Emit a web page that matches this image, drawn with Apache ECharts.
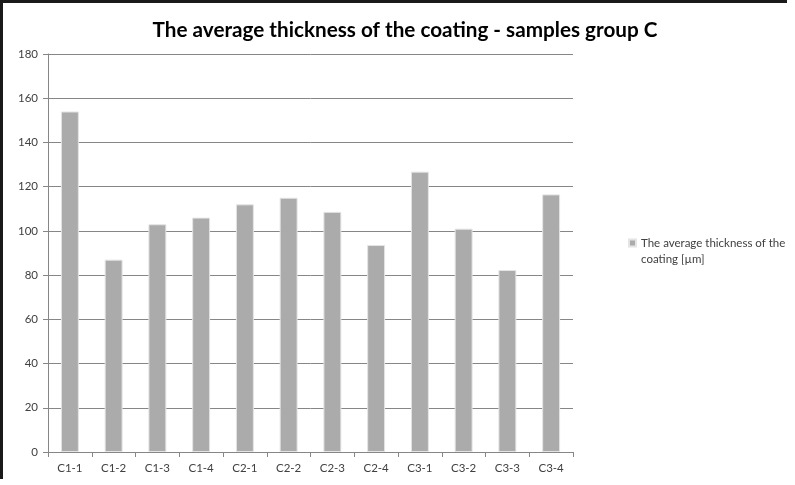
<!DOCTYPE html>
<html>
<head>
<meta charset="utf-8">
<script src="https://cdn.jsdelivr.net/npm/echarts@6/dist/echarts.min.js"></script>
<style>
  html, body { margin: 0; padding: 0; background: #ffffff; }
  #chart { width: 795px; height: 485px; }
</style>
</head>
<body>
<div id="chart"></div>
<script>
// Sample labels along the category axis
const samples = ['C1-1', 'C1-2', 'C1-3', 'C1-4', 'C2-1', 'C2-2', 'C2-3', 'C2-4', 'C3-1', 'C3-2', 'C3-3', 'C3-4'];
// Average coating thickness per sample, in micrometres
const thickness = [154, 87, 103, 106, 112, 115, 108.6, 93.6, 126.8, 101, 82.3, 116.5];
// Value axis range and step
const yMin = 0;
const yMax = 180;
const yStep = 20;

const seriesName = 'The average thickness of the coating [µm]';

const chart = echarts.init(document.getElementById('chart'), null, { renderer: 'canvas' });
const font = 'Lato, "Open Sans", sans-serif';

chart.setOption({
  backgroundColor: '#ffffff',
  animation: false,
  title: {
    text: 'The average thickness of the coating - samples group C',
    left: 400,
    textAlign: 'center',
    top: 15,
    textStyle: { fontFamily: font, fontSize: 20.7, fontWeight: 'bold', color: '#000000' }
  },
  legend: {
    left: 623,
    top: 214,
    orient: 'vertical',
    icon: 'rect',
    itemWidth: 7,
    itemHeight: 7,
    data: [seriesName],
    // leading blank line keeps the marker level with the first text line
    formatter: () => '\nThe average thickness of the\ncoating [µm]',
    textStyle: { fontFamily: font, fontSize: 11.5, color: '#404040', lineHeight: 16 }
  },
  grid: { left: 48, right: 222, top: 54, bottom: 33, containLabel: false },
  xAxis: {
    type: 'category',
    data: samples,
    boundaryGap: true,
    axisLine: { lineStyle: { color: '#868686', width: 1 } },
    axisTick: { show: true, alignWithLabel: false, length: 5, inside: false, lineStyle: { color: '#868686' } },
    axisLabel: { margin: 10, fontFamily: font, fontSize: 11.5, color: '#404040' },
    splitLine: { show: false }
  },
  yAxis: {
    type: 'value',
    min: yMin,
    max: yMax,
    interval: yStep,
    axisLine: { show: true, lineStyle: { color: '#868686', width: 1 } },
    axisTick: { show: true, length: 5, lineStyle: { color: '#868686' } },
    axisLabel: { margin: 10, fontFamily: font, fontSize: 11.5, color: '#404040' },
    splitLine: { show: true, lineStyle: { color: '#868686', width: 1 } }
  },
  series: [{
    name: seriesName,
    type: 'bar',
    data: thickness,
    barWidth: '41%',
    itemStyle: { color: '#ababab', borderColor: '#e4e4e4', borderWidth: 1 }
  }],
  graphic: [
    // dark frame edges along the top and left of the chart area
    { type: 'rect', left: 0, top: 0, z: 100, shape: { x: 8, y: 6, width: 787, height: 3 }, style: { fill: '#1a1a1a' } },
    { type: 'rect', left: 0, top: 0, z: 100, shape: { x: 8, y: 6, width: 3, height: 479 }, style: { fill: '#1a1a1a' } }
  ]
});
</script>
</body>
</html>
